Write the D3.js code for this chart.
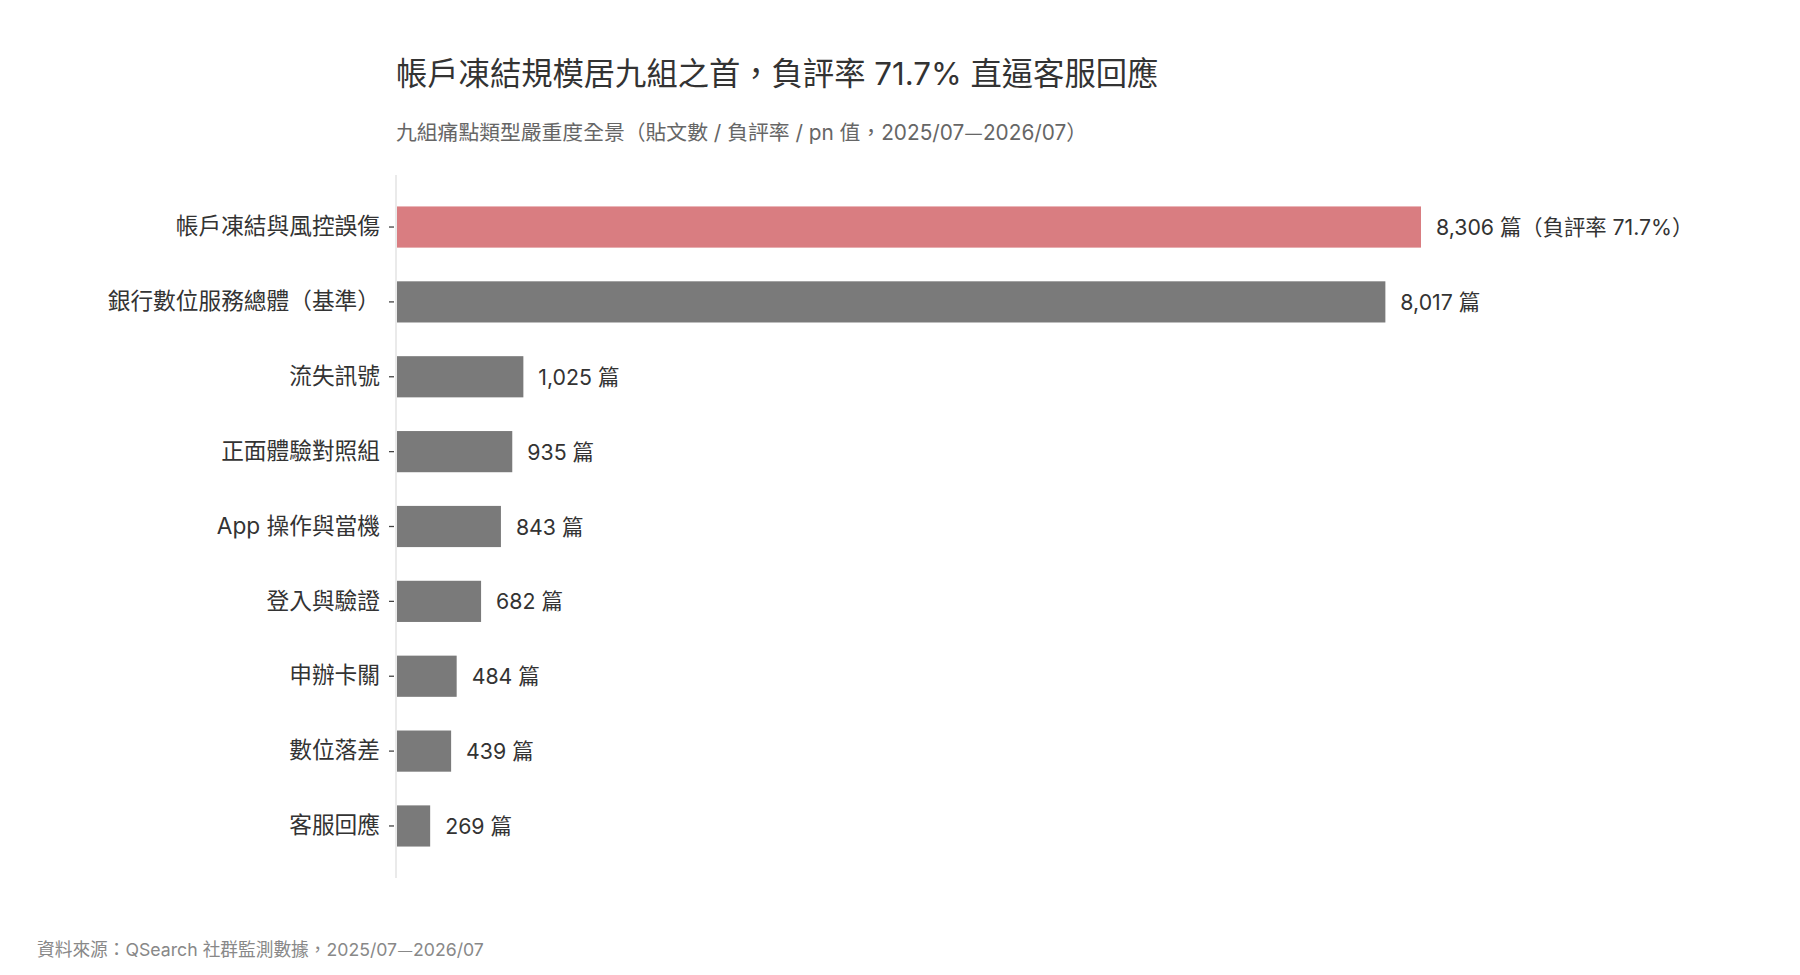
<!DOCTYPE html>
<html>
<head>
<meta charset="utf-8">
<script src="https://cdn.jsdelivr.net/npm/d3@7"></script>
<style>
  html, body { margin: 0; padding: 0; background: #fff; }
  svg { display: block; }
  text { font-family: Inter, "Noto Sans CJK TC", "Noto Sans", sans-serif; }
  .cjk { font-family: "Noto Sans CJK TC", sans-serif; }
</style>
</head>
<body>
<svg id="chart" width="1800" height="975"></svg>
<script>
const categories = [
  "帳戶凍結與風控誤傷",
  "銀行數位服務總體（基準）",
  "流失訊號",
  "正面體驗對照組",
  "App 操作與當機",
  "登入與驗證",
  "申辦卡關",
  "數位落差",
  "客服回應"
];
const postCounts = [8306, 8017, 1025, 935, 843, 682, 484, 439, 269];
const valueLabels = [
  "8,306 篇（負評率 71.7%）",
  "8,017 篇",
  "1,025 篇",
  "935 篇",
  "843 篇",
  "682 篇",
  "484 篇",
  "439 篇",
  "269 篇"
];
const highlightIndex = 0;
const titleText = "帳戶凍結規模居九組之首，負評率 71.7% 直逼客服回應";
const subtitleText = "九組痛點類型嚴重度全景（貼文數 / 負評率 / pn 值，2025/07—2026/07）";
const sourceText = "資料來源：QSearch 社群監測數據，2025/07—2026/07";

const svg = d3.select("#chart");
const data = categories.map((c, i) => ({ cat: c, value: postCounts[i], label: valueLabels[i], i }));

const x = d3.scaleLinear().domain([0, d3.max(postCounts)]).range([397, 1421]);
const y = d3.scaleBand().domain(categories).range([175, 878]).paddingInner(0.45).paddingOuter(0.42);

function dashText(sel, str) {
  const parts = str.split("—");
  parts.forEach((p, k) => {
    sel.append("tspan").text(p);
    if (k < parts.length - 1) sel.append("tspan").attr("class", "cjk").text("—");
  });
}

svg.append("text").attr("x", 396).attr("y", 85)
  .attr("font-size", 31.3).attr("fill", "#333").text(titleText);
const sub = svg.append("text").attr("x", 396).attr("y", 140)
  .attr("font-size", 20.8).attr("fill", "#666");
dashText(sub, subtitleText);

svg.append("line").attr("x1", 396).attr("x2", 396).attr("y1", 175).attr("y2", 878)
  .attr("stroke", "#e5e5e5").attr("stroke-width", 1.6);

const yAxis = d3.axisLeft(y).tickSize(5).tickPadding(10);
const gy = svg.append("g").attr("transform", "translate(394,0)").call(yAxis);
gy.select(".domain").remove();
gy.selectAll(".tick line").attr("stroke", "#444").attr("stroke-width", 1.3);
gy.selectAll(".tick text")
  .attr("font-size", 22.7).attr("fill", "#333")
  .attr("font-family", "Inter, 'Noto Sans CJK TC', sans-serif")
  .attr("x", -14);

svg.append("g").selectAll("rect").data(data).join("rect")
  .attr("x", x(0))
  .attr("y", d => y(d.cat))
  .attr("width", d => x(d.value) - x(0))
  .attr("height", y.bandwidth())
  .attr("fill", d => d.i === highlightIndex ? "#d97d81" : "#7a7a7a");

svg.append("g").selectAll("text").data(data).join("text")
  .attr("x", d => x(d.value) + 15)
  .attr("y", d => y(d.cat) + y.bandwidth() / 2)
  .attr("dy", "0.38em")
  .attr("font-size", 21.3).attr("fill", "#333")
  .text(d => d.label);

const src = svg.append("text").attr("x", 37).attr("y", 956)
  .attr("font-size", 17.7).attr("fill", "#888");
dashText(src, sourceText);
</script>
</body>
</html>
